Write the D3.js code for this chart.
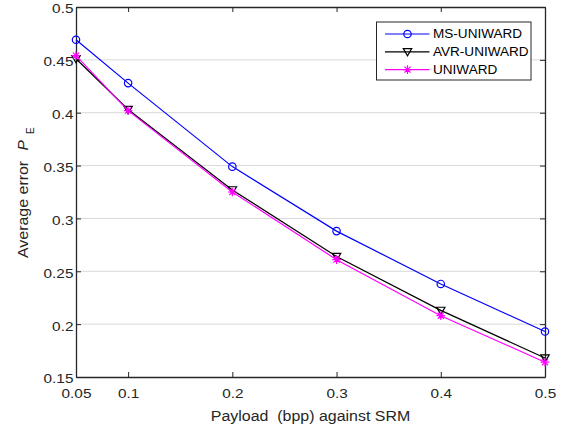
<!DOCTYPE html>
<html>
<head>
<meta charset="utf-8">
<script src="https://cdn.jsdelivr.net/npm/d3@7"></script>
<style>
  html, body { margin: 0; padding: 0; background: #fff; }
  svg { display: block; font-family: "Liberation Sans", Arial, Helvetica, sans-serif; }
</style>
</head>
<body>
<svg id="chart" width="566" height="428"></svg>
<script>
// Payload values (bpp) and average detection error for each embedding scheme
const payloads = [0.05, 0.1, 0.2, 0.3, 0.4, 0.5];
const msUniward = [0.469, 0.428, 0.349, 0.288, 0.238, 0.193];
const avrUniward = [0.451, 0.403, 0.327, 0.264, 0.213, 0.168];
const uniward = [0.454, 0.402, 0.325, 0.261, 0.208, 0.164];
const xTicks = [0.05, 0.1, 0.2, 0.3, 0.4, 0.5];
const yTicks = [0.15, 0.2, 0.25, 0.3, 0.35, 0.4, 0.45, 0.5];

const seriesList = [
  { name: "MS-UNIWARD", values: msUniward, color: "#0000ff", marker: "circle" },
  { name: "AVR-UNIWARD", values: avrUniward, color: "#000000", marker: "triangle" },
  { name: "UNIWARD", values: uniward, color: "#ff00ff", marker: "star" }
];

const svg = d3.select("#chart");
const m = { left: 76, top: 7, right: 545, bottom: 377 };
const x = d3.scaleLinear().domain([0.05, 0.5]).range([m.left, m.right]);
const y = d3.scaleLinear().domain([0.15, 0.5]).range([m.bottom, m.top]);
const axisColor = "#262626";
const wide = 1.18; // horizontal stretch of the tick-label lettering

// horizontal grid lines
svg.append("g").selectAll("line").data(yTicks.slice(1, -1)).join("line")
  .attr("x1", m.left).attr("x2", m.right)
  .attr("y1", d => y(d)).attr("y2", d => y(d))
  .attr("stroke", "#d9d9d9").attr("stroke-width", 1);

// axes with inward ticks on all four sides
const tickLen = 5;
const fmt = d => String(d);
svg.append("g").attr("transform", `translate(0,${m.bottom})`)
  .call(d3.axisBottom(x).tickValues(xTicks).tickFormat(fmt).tickSizeInner(-tickLen).tickSizeOuter(0).tickPadding(12));
svg.append("g").attr("transform", `translate(0,${m.top})`)
  .call(d3.axisTop(x).tickValues(xTicks).tickFormat("").tickSizeInner(-tickLen).tickSizeOuter(0));
const gy = svg.append("g").attr("transform", `translate(${m.left},0)`)
  .call(d3.axisLeft(y).tickValues(yTicks).tickFormat(fmt).tickSizeInner(-tickLen).tickSizeOuter(0).tickPadding(2.2));
svg.append("g").attr("transform", `translate(${m.right},0)`)
  .call(d3.axisRight(y).tickValues(yTicks).tickFormat("").tickSizeInner(-tickLen).tickSizeOuter(0));

svg.selectAll(".domain").attr("stroke", axisColor).attr("stroke-width", 1.3);
svg.selectAll(".tick line").attr("stroke", axisColor).attr("stroke-width", 1);
svg.selectAll(".tick text").attr("fill", axisColor).attr("font-size", 13)
  .attr("font-family", "'Liberation Sans', Arial, sans-serif")
  .attr("transform", `scale(${wide},1)`);
gy.selectAll(".tick text").attr("dy", "0.45em");

// marker drawing helpers
function drawMarker(g, type, color, cx, cy) {
  if (type === "circle") {
    g.append("circle").attr("cx", cx).attr("cy", cy).attr("r", 3.7)
      .attr("fill", "none").attr("stroke", color).attr("stroke-width", 1.2);
  } else if (type === "triangle") {
    const s = 4.2;
    g.append("path")
      .attr("d", `M${cx - s},${cy - s * 0.75}L${cx + s},${cy - s * 0.75}L${cx},${cy + s * 0.95}Z`)
      .attr("fill", "none").attr("stroke", color).attr("stroke-width", 1.2);
  } else {
    const s = 4.3;
    const pts = [];
    for (let k = 0; k < 4; k++) {
      const a = k * Math.PI / 4;
      pts.push(`M${cx - s * Math.cos(a)},${cy - s * Math.sin(a)}L${cx + s * Math.cos(a)},${cy + s * Math.sin(a)}`);
    }
    g.append("path").attr("d", pts.join("")).attr("stroke", color).attr("stroke-width", 1.2).attr("fill", "none");
  }
}

const line = d3.line().x((d, i) => x(payloads[i])).y(d => y(d));
seriesList.forEach(s => {
  const g = svg.append("g");
  g.append("path").datum(s.values).attr("d", line)
    .attr("fill", "none").attr("stroke", s.color).attr("stroke-width", 1.2);
  s.values.forEach((v, i) => drawMarker(g, s.marker, s.color, x(payloads[i]), y(v)));
});

// legend
const lg = svg.append("g").attr("transform", "translate(376.5,22)");
lg.append("rect").attr("width", 154.5).attr("height", 58)
  .attr("fill", "#fff").attr("stroke", axisColor).attr("stroke-width", 1);
seriesList.forEach((s, i) => {
  const ly = 12 + i * 17.8;
  lg.append("line").attr("x1", 8.5).attr("x2", 53).attr("y1", ly).attr("y2", ly)
    .attr("stroke", s.color).attr("stroke-width", 1.2);
  drawMarker(lg, s.marker, s.color, 31, ly);
  lg.append("text").attr("transform", `translate(56.5,${ly}) scale(1.13,1)`)
    .attr("dy", "0.36em").attr("font-size", 12).attr("fill", "#000").text(s.name);
});

// axis titles
svg.append("text").attr("transform", `translate(${(m.left + m.right) / 2},420.5) scale(1.1,1)`)
  .attr("text-anchor", "middle").attr("font-size", 14.5).attr("fill", axisColor)
  .style("white-space", "pre")
  .text("Payload  (bpp) against SRM");

// rotated y title: plain words, italic P and a dropped subscript E
const yl = svg.append("g").attr("transform", "translate(28.3,0) rotate(-90)");
yl.append("text").attr("transform", "translate(-258,0) scale(1.1,1)")
  .attr("font-size", 14.5).attr("fill", axisColor)
  .text("Average error");
yl.append("text").attr("x", -150.5).attr("y", -0.5).attr("font-size", 15.5).attr("font-style", "italic")
  .attr("fill", axisColor).text("P");
yl.append("text").attr("x", -134).attr("y", 5.5).attr("font-size", 10).attr("fill", axisColor)
  .text("E");
</script>
</body>
</html>
